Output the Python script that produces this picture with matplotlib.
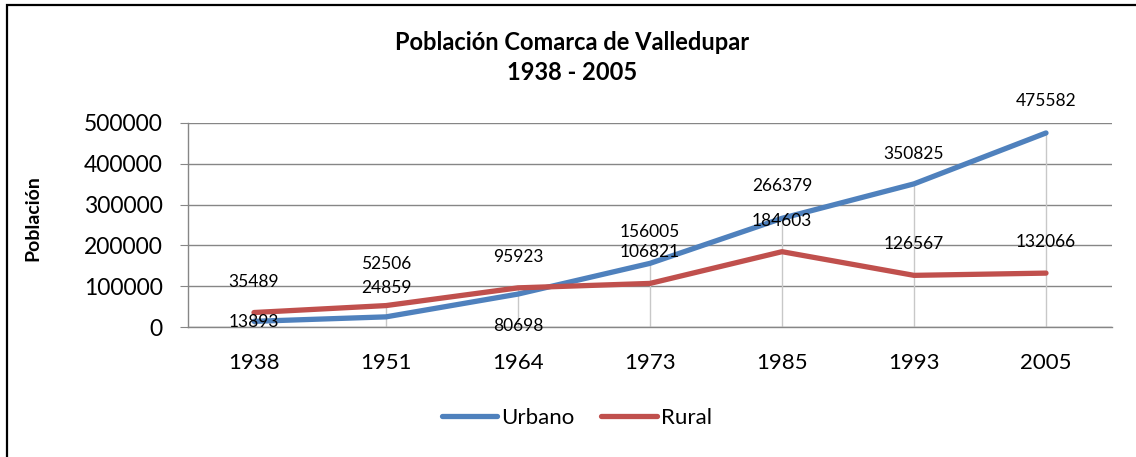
import numpy as np
import matplotlib
matplotlib.use("Agg")
import matplotlib.pyplot as plt
from matplotlib.patches import Rectangle
from matplotlib.lines import Line2D

plt.rcParams['font.family'] = ['Lato', 'DejaVu Sans']

years = ['1938', '1951', '1964', '1973', '1985', '1993', '2005']
urbano = [13893, 24859, 80698, 156005, 266379, 350825, 475582]
rural = [35489, 52506, 95923, 106821, 184603, 126567, 132066]

# label offsets in pixels (Excel labels were nudged by hand)
urb_off = [1, -29, 32, -31, -32, -30, -32]
rur_off = [-31, -42, -31, -31, -31, -31, -31]

W, H = 1136, 457
fig = plt.figure(figsize=(W / 100, H / 100), dpi=100)
ax = fig.add_axes([188 / W, 1 - 327 / H, (1112 - 188) / W, (327 - 123) / H])

x = np.arange(len(years))
blue = '#4F81BD'
red = '#C0504D'
grid = '#868686'

# drop lines
top = np.maximum(urbano, rural)
ax.vlines(x, 0, top, color='#c8c8c8', lw=1, zorder=1)

ax.plot(x, urbano, color=blue, lw=3.8, solid_capstyle='round', zorder=3)
ax.plot(x, rural, color=red, lw=3.8, solid_capstyle='round', zorder=3)

for xi, v, off in zip(x, urbano, urb_off):
    ax.annotate(str(v), (xi, v), xytext=(0, -off), textcoords='offset pixels',
                ha='center', va='center', fontsize=12.5, zorder=4)
for xi, v, off in zip(x, rural, rur_off):
    ax.annotate(str(v), (xi, v), xytext=(0, -off), textcoords='offset pixels',
                ha='center', va='center', fontsize=12.5, zorder=4)

ax.set_xlim(-0.5, len(years) - 0.5)
ax.set_ylim(0, 500000)
ax.set_yticks(np.arange(0, 500001, 100000))
ax.yaxis.grid(True, color=grid, lw=1)
ax.set_axisbelow(True)
ax.set_xticks(x)
ax.set_xticklabels(years)
ax.tick_params(axis='y', length=6, color=grid, pad=12, labelsize=16.5)
ax.tick_params(axis='x', length=0, pad=19, labelsize=16)
for s in ['top', 'right']:
    ax.spines[s].set_visible(False)
for s in ['left', 'bottom']:
    ax.spines[s].set_color(grid)
    ax.spines[s].set_linewidth(1)

fig.text(572 / W, 1 - 42 / H, 'Población Comarca de Valledupar',
         ha='center', va='center', fontsize=17, fontweight='bold')
fig.text(572 / W, 1 - 73 / H, '1938 - 2005',
         ha='center', va='center', fontsize=17, fontweight='bold')
fig.text(33 / W, 1 - 218 / H, 'Población', rotation=90,
         ha='center', va='center', fontsize=14, fontweight='bold')

handles = [Line2D([], [], color=blue, lw=3.8, solid_capstyle='round'),
           Line2D([], [], color=red, lw=3.8, solid_capstyle='round')]
fig.legend(handles, ['Urbano', 'Rural'], loc='center',
           bbox_to_anchor=(577 / W, 1 - 418 / H), ncol=2, frameon=False,
           fontsize=16, handlelength=2.5, handletextpad=0.2, columnspacing=1.2)

fig.patches.append(Rectangle((7 / W, -0.1), 1.2, 1 - 5 / H + 0.1,
                             transform=fig.transFigure, fill=False,
                             edgecolor='black', lw=1.6, clip_on=False))

fig.savefig('out.png', dpi=100)
